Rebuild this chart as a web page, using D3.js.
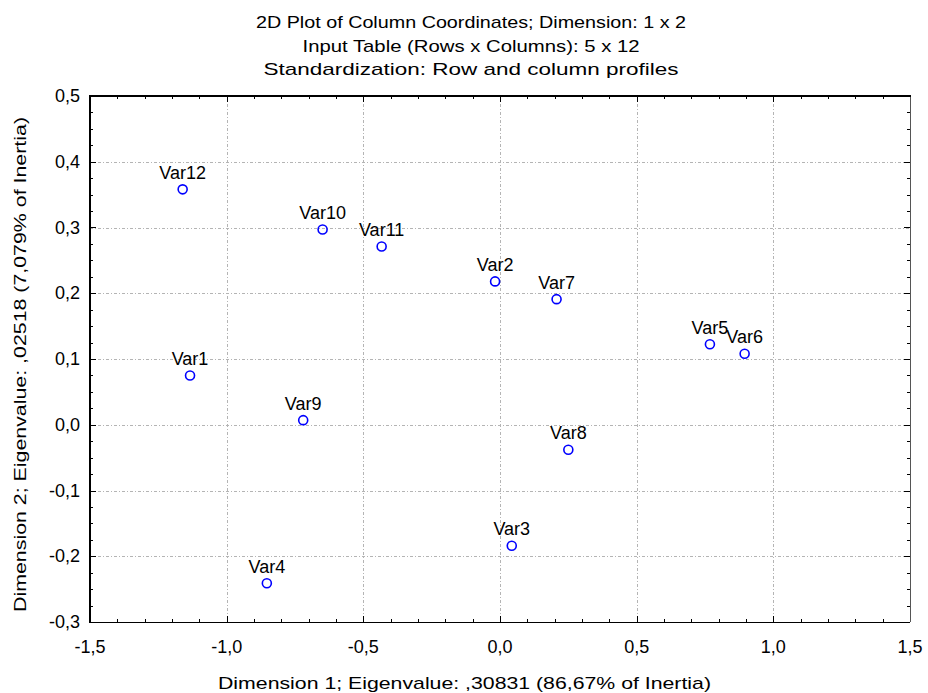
<!DOCTYPE html>
<html>
<head>
<meta charset="utf-8">
<script src="https://cdn.jsdelivr.net/npm/d3@7"></script>
<style>
  body { margin: 0; background: #fff; }
  svg { display: block; font-family: "Liberation Sans", Arial, sans-serif; }
</style>
</head>
<body>
<svg width="928" height="693"></svg>
<script>
// column coordinates
var labels = ["Var1", "Var2", "Var3", "Var4", "Var5", "Var6", "Var7", "Var8", "Var9", "Var10", "Var11", "Var12"];
var dim1 = [-1.134, -0.018, 0.043, -0.853, 0.768, 0.895, 0.207, 0.250, -0.720, -0.649, -0.433, -1.161];
var dim2 = [0.075, 0.218, -0.184, -0.241, 0.1225, 0.108, 0.191, -0.038, 0.007, 0.297, 0.271, 0.358];

var xTicks = [-1.5, -1.0, -0.5, 0.0, 0.5, 1.0, 1.5];
var yTicks = [-0.3, -0.2, -0.1, 0.0, 0.1, 0.2, 0.3, 0.4, 0.5];
var titleLines = ["2D Plot of Column Coordinates; Dimension:  1 x  2",
                  "Input Table (Rows x Columns): 5 x 12",
                  "Standardization: Row and column profiles"];
var xTitle = "Dimension 1; Eigenvalue: ,30831 (86,67% of Inertia)";
var yTitle = "Dimension 2; Eigenvalue: ,02518 (7,079% of Inertia)";

var plotL = 90, plotR = 910, plotT = 96, plotB = 622;

var svg = d3.select("svg");
var x = d3.scaleLinear().domain([-1.5, 1.5]).range([plotL, plotR]);
var y = d3.scaleLinear().domain([-0.3, 0.5]).range([plotB, plotT]);
var fmt = function(v){ return d3.format(".1f")(v).replace(".", ",").replace("−", "-"); };

// grid
var gridStyle = function(sel){
    sel.attr("stroke", "#b4b4b4").attr("stroke-width", 1).attr("stroke-dasharray", "3,2,1,2");
};
svg.append("g").selectAll("line").data(xTicks.slice(1, -1)).enter().append("line")
    .attr("x1", function(d){return Math.round(x(d))+0.5;}).attr("x2", function(d){return Math.round(x(d))+0.5;})
    .attr("y1", plotT).attr("y2", plotB).call(gridStyle);
svg.append("g").selectAll("line").data(yTicks.slice(1, -1)).enter().append("line")
    .attr("y1", function(d){return Math.round(y(d))+0.5;}).attr("y2", function(d){return Math.round(y(d))+0.5;})
    .attr("x1", plotL).attr("x2", plotR).call(gridStyle);

// minor ticks, drawn inward on all sides
var xMinor = d3.range(-15, 16).map(function(i){return i/10;});
var yMinor = d3.range(-12, 21).map(function(i){return i*0.025;});
var tg = svg.append("g").attr("stroke", "#000").attr("stroke-width", 1);
xMinor.forEach(function(v){
    var len = (Math.abs(v*2 - Math.round(v*2)) < 1e-6) ? 6 : 3;
    var px = Math.round(x(v))+0.5;
    tg.append("line").attr("x1", px).attr("x2", px).attr("y1", plotB).attr("y2", plotB-len);
    tg.append("line").attr("x1", px).attr("x2", px).attr("y1", plotT).attr("y2", plotT+len);
});
yMinor.forEach(function(v){
    var len = (Math.abs(v*10 - Math.round(v*10)) < 1e-6) ? 6 : 3;
    var py = Math.round(y(v))+0.5;
    tg.append("line").attr("y1", py).attr("y2", py).attr("x1", plotL).attr("x2", plotL+len);
    tg.append("line").attr("y1", py).attr("y2", py).attr("x1", plotR).attr("x2", plotR-len);
});

// frame
svg.append("line").attr("x1", plotL).attr("x2", plotR).attr("y1", plotB+0.5).attr("y2", plotB+0.5).attr("stroke", "#000");
svg.append("line").attr("x1", plotR+0.5).attr("x2", plotR+0.5).attr("y1", plotT).attr("y2", plotB).attr("stroke", "#555");
svg.append("line").attr("x1", plotL-1).attr("x2", plotR+1).attr("y1", plotT).attr("y2", plotT).attr("stroke", "#000").attr("stroke-width", 2);
svg.append("line").attr("x1", plotL).attr("x2", plotL).attr("y1", plotT-1).attr("y2", plotB+1).attr("stroke", "#000").attr("stroke-width", 2);

// tick labels
svg.append("g").selectAll("text").data(xTicks).enter().append("text")
    .attr("x", function(d){return x(d);}).attr("y", 653)
    .attr("text-anchor", "middle").attr("font-size", 18).text(fmt);
svg.append("g").selectAll("text").data(yTicks).enter().append("text")
    .attr("x", 80).attr("y", function(d){return y(d)+6;})
    .attr("text-anchor", "end").attr("font-size", 18).text(fmt);

// titles
svg.append("g").selectAll("text").data(titleLines).enter().append("text")
    .attr("x", 471).attr("y", function(d, i){return 28 + i*23.5;})
    .attr("text-anchor", "middle").attr("font-size", 17)
    .attr("textLength", function(d, i){return [430, 337, 415][i];})
    .attr("lengthAdjust", "spacingAndGlyphs")
    .text(function(d){return d;});
svg.append("text").attr("x", 464.5).attr("y", 689).attr("text-anchor", "middle")
    .attr("font-size", 17).attr("textLength", 493).attr("lengthAdjust", "spacingAndGlyphs").text(xTitle);
svg.append("text").attr("transform", "translate(26,364.5) rotate(-90)").attr("text-anchor", "middle")
    .attr("font-size", 17).attr("textLength", 495).attr("lengthAdjust", "spacingAndGlyphs").text(yTitle);

// points
var pts = svg.append("g").selectAll("g").data(labels).enter().append("g");
pts.append("circle")
    .attr("cx", function(d, i){return x(dim1[i]);})
    .attr("cy", function(d, i){return y(dim2[i]);})
    .attr("r", 4.5).attr("fill", "none").attr("stroke", "#0000ff").attr("stroke-width", 1.6);
pts.append("text")
    .attr("x", function(d, i){return x(dim1[i]);})
    .attr("y", function(d, i){return y(dim2[i]) - 10.5;})
    .attr("text-anchor", "middle").attr("font-size", 18).attr("fill", "#000")
    .text(function(d){return d;});
</script>
</body>
</html>
